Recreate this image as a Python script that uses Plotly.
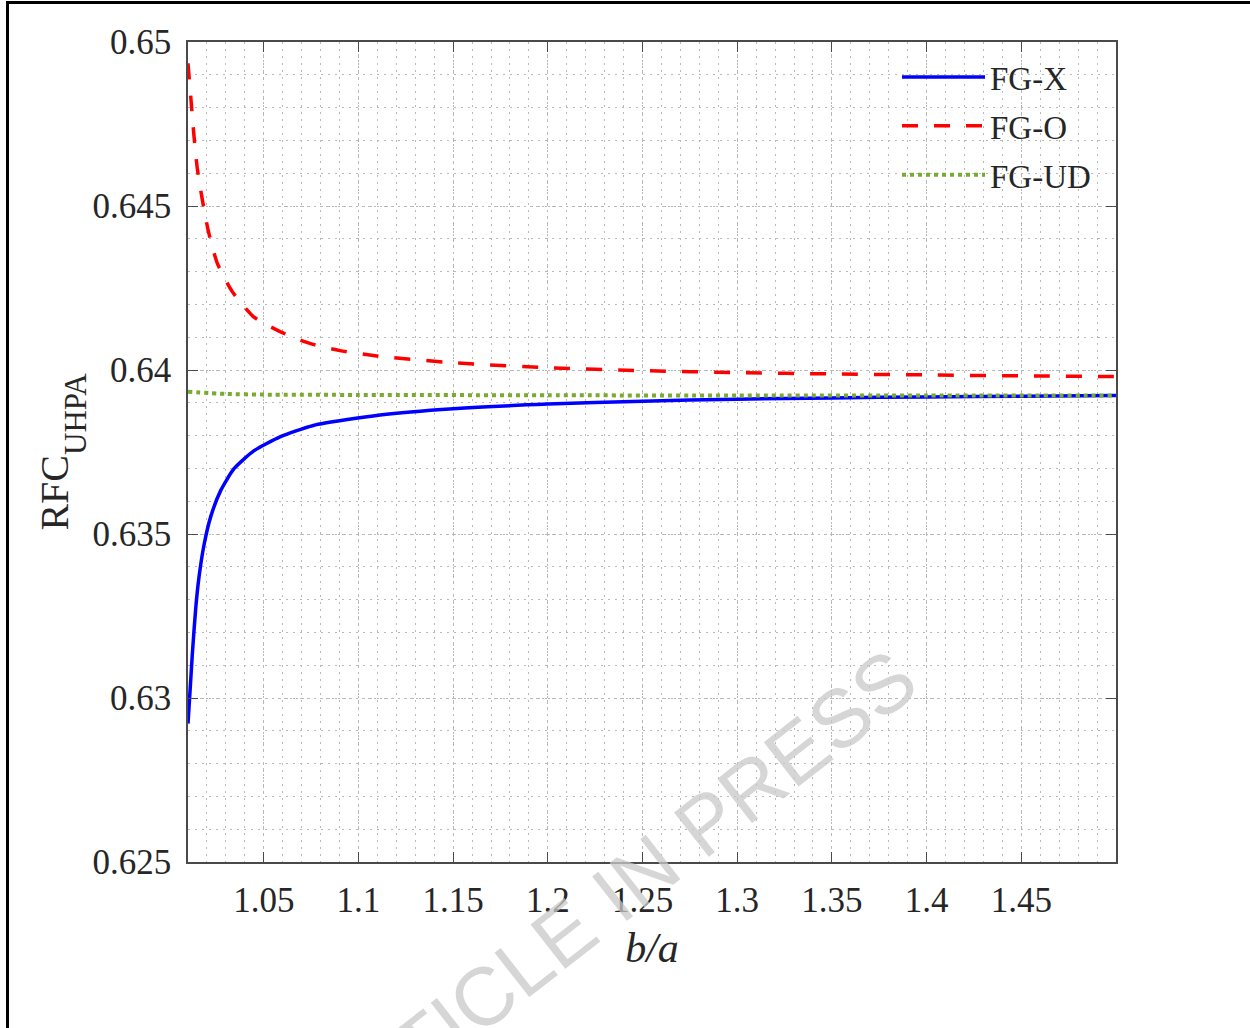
import plotly.graph_objects as go

# ---------------- data ----------------
x_fgx = [1.0100, 1.0123, 1.0141, 1.0158, 1.0184, 1.0220, 1.0273, 1.0343, 1.0449,
         1.0586, 1.0762, 1.1114, 1.15, 1.20, 1.25, 1.30, 1.35, 1.40, 1.45, 1.50]
y_fgx = [0.62922, 0.63135, 0.63275, 0.63368, 0.63465, 0.63553, 0.63633, 0.63699, 0.63754,
         0.63796, 0.63831, 0.63863, 0.63882, 0.63896, 0.63905, 0.63911, 0.63915, 0.63918, 0.63920, 0.63922]

x_fgo = [1.0100, 1.0118, 1.0132, 1.0149, 1.0176, 1.0208, 1.0255, 1.0334, 1.0445, 1.0586,
         1.0744, 1.0902, 1.1096, 1.15, 1.20, 1.25, 1.30, 1.35, 1.40, 1.45, 1.50]
y_fgo = [0.64935, 0.64808, 0.64711, 0.64615, 0.64518, 0.64422, 0.64325, 0.64239, 0.64163, 0.64117,
         0.64081, 0.64059, 0.64043, 0.64022, 0.64007, 0.63998, 0.63992, 0.63988, 0.63985, 0.63982, 0.63980]

x_fgud = [1.01, 1.03, 1.05, 1.10, 1.20, 1.30, 1.40, 1.50]
y_fgud = [0.63934, 0.63927, 0.63925, 0.63924, 0.63923, 0.63922, 0.63922, 0.63922]

x_tickvals = [1.05, 1.10, 1.15, 1.20, 1.25, 1.30, 1.35, 1.40, 1.45]
x_ticktext = ["1.05", "1.1", "1.15", "1.2", "1.25", "1.3", "1.35", "1.4", "1.45"]
y_tickvals = [0.625, 0.630, 0.635, 0.640, 0.645, 0.650]
y_ticktext = ["0.625", "0.63", "0.635", "0.64", "0.645", "0.65"]

FONT = "Liberation Serif"
TXT = "#262626"
GRID = "#b8b8b8"
AX = "#4a4a4a"

fig = go.Figure()
fig.add_trace(go.Scatter(x=x_fgx, y=y_fgx, mode="lines", name="FG-X", legendgroup="a",
                         line=dict(color="#0000FF", width=3.5, shape="spline", smoothing=0.6)))
fig.add_trace(go.Scatter(x=x_fgo, y=y_fgo, mode="lines", name="FG-O", legendgroup="b",
                         line=dict(color="#FF0000", width=3.5, dash="16px,16px", shape="spline", smoothing=0.6)))
fig.add_trace(go.Scatter(x=x_fgud, y=y_fgud, mode="lines", name="FG-UD", legendgroup="c",
                         line=dict(color="#77AC30", width=4, dash="4px,4px", shape="spline", smoothing=0.6)))

L, R, T, B = 188, 134, 42, 166
W, H = 1250, 1028
pw, ph = W - L - R, H - T - B

def px_x(p):
    return (p - L) / pw

def px_y(p):
    return (H - B - p) / ph

# outer frame (top and left black lines)
fig.add_shape(type="line", xref="paper", yref="paper", x0=px_x(7.5), x1=px_x(1260), y0=px_y(2.5), y1=px_y(2.5),
              line=dict(color="black", width=3))
fig.add_shape(type="line", xref="paper", yref="paper", x0=px_x(7.5), x1=px_x(7.5), y0=px_y(1), y1=px_y(1040),
              line=dict(color="black", width=3))

# watermark
fig.add_annotation(text="ARTICLE IN PRESS", xref="paper", yref="paper", x=px_x(609), y=px_y(898),
                   xanchor="center", yanchor="middle",
                   showarrow=False, textangle=-38,
                   font=dict(family="Liberation Sans", size=82, color="rgba(200,200,200,0.75)"))

fig.update_layout(
    width=W, height=H,
    margin=dict(l=L, r=R, t=T, b=B, autoexpand=False),
    paper_bgcolor="white", plot_bgcolor="white",
    font=dict(family=FONT, color=TXT, size=35),
    showlegend=True,
    legend=dict(x=px_x(897), y=px_y(49), xanchor="left", yanchor="top",
                bgcolor="rgba(0,0,0,0)", borderwidth=0,
                font=dict(family=FONT, size=33, color=TXT),
                itemwidth=83, traceorder="grouped", tracegroupgap=3),
    xaxis=dict(range=[1.01, 1.5], tickvals=x_tickvals, ticktext=x_ticktext,
               ticks="inside", ticklen=10, tickwidth=1.3, tickcolor=AX,
               showline=True, linecolor=AX, linewidth=1.5, mirror="ticks",
               showgrid=True, gridcolor=GRID, gridwidth=1, griddash="2px,4px",
               minor=dict(dtick=0.01, tick0=1.0, showgrid=True, gridcolor=GRID, gridwidth=1,
                          griddash="2px,5px", ticks=""),
               zeroline=False, tickfont=dict(family=FONT, size=35, color=TXT),
               ticklabelstandoff=6,
               title=dict(text="<i>b/a</i>", font=dict(family=FONT, size=42, color=TXT), standoff=14)),
    yaxis=dict(range=[0.625, 0.65], tickvals=y_tickvals, ticktext=y_ticktext,
               ticks="inside", ticklen=10, tickwidth=1.3, tickcolor=AX,
               showline=True, linecolor=AX, linewidth=1.5, mirror="ticks",
               showgrid=True, gridcolor=GRID, gridwidth=1, griddash="2px,4px",
               minor=dict(dtick=0.001, tick0=0.625, showgrid=True, gridcolor=GRID, gridwidth=1,
                          griddash="2px,5px", ticks=""),
               zeroline=False, tickfont=dict(family=FONT, size=35, color=TXT),
               ticklabelstandoff=8,
               title=dict(text="RFC<span style='font-size:31px;baseline-shift:-18px'>UHPA</span>",
                          font=dict(family=FONT, size=40, color=TXT), standoff=0)),
)

fig.write_html("out.html")
